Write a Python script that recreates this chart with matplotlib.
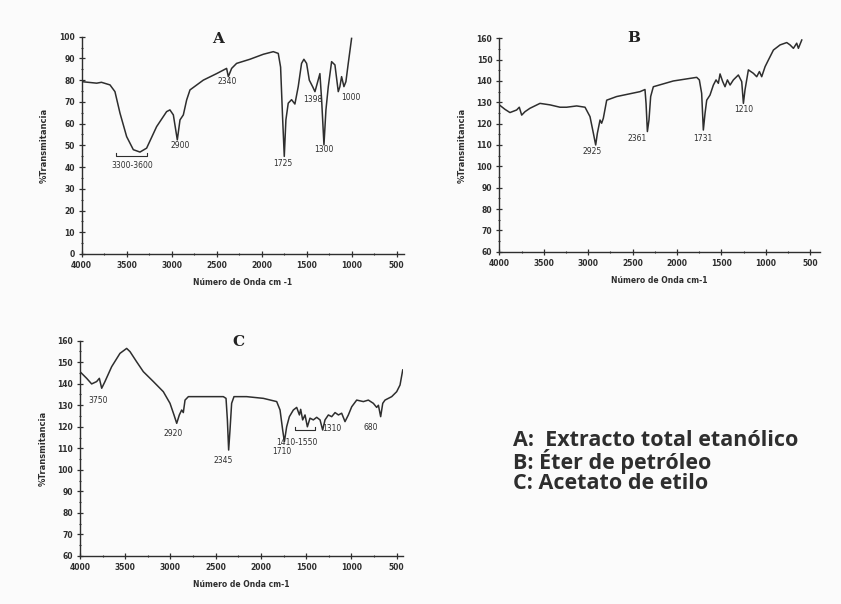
import matplotlib.pyplot as plt
from matplotlib.ticker import MultipleLocator

# --- panel A: Extracto total etanolico ---
wn_a = [4000, 3833, 3780, 3685, 3630, 3574, 3500, 3426, 3352, 3278, 3167, 3056, 3019, 2981,
        2937, 2907, 2870, 2833, 2796, 2648, 2500, 2389, 2370, 2333, 2278, 2130, 1981, 1870,
        1815, 1789, 1767, 1748, 1730, 1704, 1667, 1630, 1593, 1556, 1530, 1500, 1470, 1433,
        1407, 1381, 1352, 1333, 1307, 1285, 1259, 1222, 1185, 1148, 1130, 1111, 1085, 1063,
        1037, 1000]
t_a = [79.3, 78.6, 79.0, 77.8, 74.7, 64.8, 54.0, 48.0, 46.9, 48.7, 58.6, 65.5, 66.3, 64.0,
       52.5, 61.7, 64.0, 70.9, 75.5, 80.0, 83.0, 85.4, 81.6, 85.4, 87.7, 89.6, 91.9, 93.1,
       92.3, 86.0, 63.0, 44.9, 61.7, 69.4, 71.0, 69.0, 77.0, 87.7, 89.6, 87.7, 80.0, 77.0,
       74.7, 78.6, 83.0, 71.0, 50.2, 66.3, 77.0, 88.5, 87.0, 74.7, 77.0, 81.6, 77.0, 79.3,
       87.7, 99.2]
lab_a = ["2340", "2900", "3300-3600", "1725", "1398", "1300", "1000"]
lab_a_x = [2381, 2900, 3437, 1759, 1426, 1307, 1011]
lab_a_y = [79.3, 49.8, 40.7, 41.5, 70.9, 47.9, 72.1]

# --- panel B: Eter de petroleo ---
wn_b = [4000, 3936, 3880, 3805, 3775, 3748, 3711, 3655, 3542, 3429, 3317, 3242, 3129, 3035,
        2979, 2941, 2915, 2896, 2866, 2848, 2829, 2791, 2679, 2416, 2360, 2348, 2333, 2315,
        2296, 2266, 2041, 1778, 1748, 1722, 1703, 1684, 1665, 1628, 1590, 1560, 1534, 1515,
        1485, 1459, 1432, 1402, 1365, 1309, 1271, 1252, 1234, 1196, 1140, 1102, 1072, 1046,
        1008, 971, 914, 839, 764, 727, 689, 652, 633, 595]
t_b = [128.8, 126.7, 125.2, 126.4, 127.7, 124.0, 125.6, 127.2, 129.5, 128.8, 127.7, 127.7,
       128.3, 127.7, 123.3, 115.5, 110.0, 115.5, 121.7, 120.2, 122.5, 131.0, 132.7, 135.0,
       136.0, 129.5, 116.3, 121.7, 132.7, 137.3, 140.0, 141.7, 140.5, 134.2, 117.0, 124.8,
       131.0, 133.4, 138.1, 140.5, 138.9, 143.3, 139.7, 137.3, 140.5, 138.1, 140.5, 142.8,
       139.7, 129.5, 135.8, 145.2, 143.6, 142.0, 144.4, 142.0, 146.7, 149.8, 154.5, 156.9,
       158.0, 156.9, 155.3, 157.7, 155.3, 159.2]
lab_b = ["2925", "2361", "1731", "1210"]
lab_b_x = [2960, 2453, 1710, 1252]
lab_b_y = [106.9, 113.0, 113.0, 126.4]

# --- panel C: Acetato de etilo ---
wn_c = [4000, 3926, 3871, 3816, 3786, 3760, 3724, 3650, 3558, 3484, 3447, 3374, 3300, 3189,
        3079, 3005, 2961, 2931, 2902, 2876, 2858, 2839, 2802, 2416, 2386, 2371, 2357, 2342,
        2324, 2298, 2158, 1973, 1826, 1789, 1760, 1741, 1716, 1686, 1642, 1605, 1575, 1561,
        1539, 1513, 1487, 1458, 1421, 1384, 1347, 1318, 1292, 1255, 1218, 1181, 1144, 1108,
        1071, 1034, 997, 942, 868, 813, 758, 721, 702, 677, 654, 629, 555, 500, 463, 433]
t_c = [145.6, 142.5, 139.9, 141.0, 142.5, 137.9, 141.0, 147.9, 154.1, 156.4, 154.9, 150.2,
       145.6, 141.0, 136.3, 130.9, 125.5, 121.6, 125.5, 127.8, 126.6, 132.4, 134.0, 134.0,
       133.2, 123.2, 109.2, 118.5, 130.9, 134.0, 134.0, 133.2, 131.7, 127.8, 118.5, 113.1,
       120.0, 124.7, 127.8, 129.0, 125.5, 128.1, 123.2, 125.5, 120.0, 124.0, 123.2, 124.4,
       123.2, 118.5, 123.2, 125.5, 124.7, 126.6, 125.5, 126.3, 122.4, 125.5, 129.3, 132.4,
       131.7, 132.4, 130.9, 129.0, 130.0, 124.7, 130.9, 132.4, 134.0, 136.3, 139.4, 146.4]
lab_c = ["3750", "2920", "2345", "1410-1550", "1710", "1310", "680"]
lab_c_x = [3797, 2976, 2416, 1605, 1771, 1218, 787]
lab_c_y = [132.4, 117.0, 104.3, 112.6, 108.5, 119.3, 119.8]

legend_lines = ["A:  Extracto total etanólico", "B: Éter de petróleo", "C: Acetato de etilo"]

ink = "#2e2e2e"
fig = plt.figure(figsize=(8.41, 6.04), dpi=100)
fig.patch.set_facecolor("#fbfbfb")


def panel(rect, wn, t, xlim, ylim, ystep, title, title_xy, labels, lx, ly, xlabel):
    ax = fig.add_axes(rect)
    ax.set_facecolor("none")
    ax.plot(wn, t, color=ink, lw=1.1)
    ax.set_xlim(*xlim)
    ax.set_ylim(*ylim)
    ax.spines[["top", "right"]].set_visible(False)
    for s in ("left", "bottom"):
        ax.spines[s].set_color(ink)
        ax.spines[s].set_linewidth(1.0)
    ax.xaxis.set_major_locator(MultipleLocator(500))
    ax.xaxis.set_minor_locator(MultipleLocator(250))
    ax.yaxis.set_major_locator(MultipleLocator(ystep))
    ax.yaxis.set_minor_locator(MultipleLocator(ystep / 2))
    ax.tick_params(which="major", direction="inout", length=4, width=0.9, color=ink,
                   labelsize=5.5, labelcolor=ink, pad=3)
    ax.tick_params(which="minor", direction="inout", length=2, width=0.8, color=ink)
    for lbl in ax.get_xticklabels() + ax.get_yticklabels():
        lbl.set_fontweight("bold")
    ax.set_xlabel(xlabel, fontsize=5.5, fontweight="bold", color=ink, labelpad=6)
    ax.set_ylabel("%Transmitancia", fontsize=6, fontweight="bold", color=ink, labelpad=7)
    ax.text(title_xy[0], title_xy[1], title, fontsize=11, fontweight="bold",
            family="DejaVu Serif", ha="center", va="center", color="#222222")
    for s, x, y in zip(labels, lx, ly):
        ax.text(x, y, s, fontsize=5.5, ha="center", va="center", color=ink)
    return ax


ax_a = panel([0.0971, 0.5795, 0.383, 0.3598], wn_a, t_a, (4000, 420), (0, 100), 10,
             "A", (2481, 98.8), lab_a, lab_a_x, lab_a_y, "Número de Onda cm -1")
ax_a.plot([3619, 3619, 3270, 3270], [46.3, 44.9, 44.9, 46.3], color=ink, lw=0.8)

ax_b = panel([0.5937, 0.5833, 0.3813, 0.3533], wn_b, t_b, (4000, 390), (60, 160), 10,
             "B", (2491, 160), lab_b, lab_b_x, lab_b_y, "Número de Onda cm-1")

ax_c = panel([0.0951, 0.0795, 0.384, 0.3565], wn_c, t_c, (4000, 431), (60, 160), 10,
             "C", (2250, 159.5), lab_c, lab_c_x, lab_c_y, "Número de Onda cm-1")
ax_c.plot([1624, 1624, 1402, 1402], [119.8, 118.5, 118.5, 119.8], color=ink, lw=0.8)

fig.text(0.61, 1 - 462 / 604, "\n".join(legend_lines), fontsize=15.5, fontweight="bold",
         family="Open Sans", color=ink, va="center", ha="left", linespacing=0.9)

fig.savefig("out.png", dpi=100, facecolor=fig.get_facecolor())
